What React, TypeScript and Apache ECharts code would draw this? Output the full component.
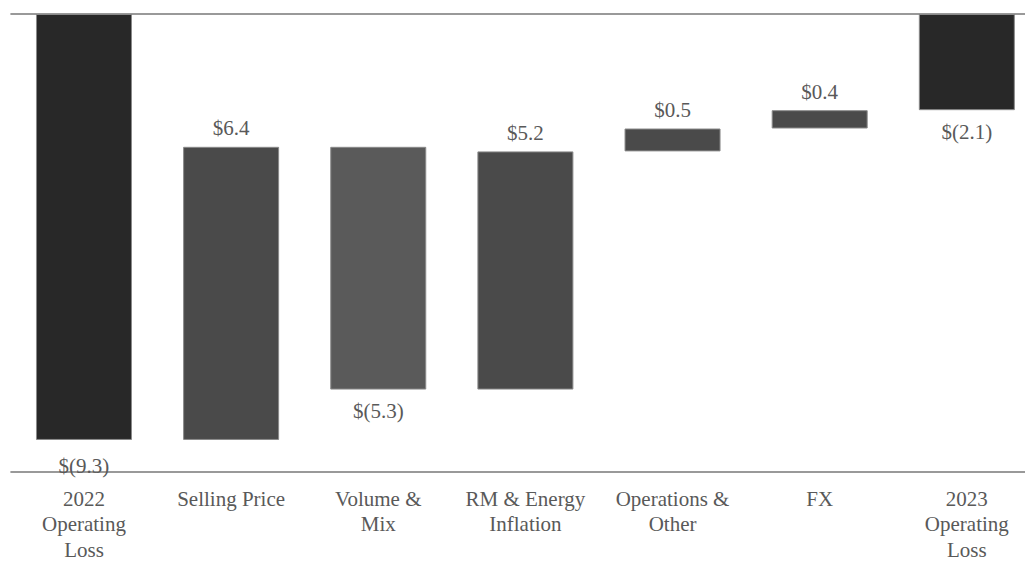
import React, { useEffect, useRef } from "react";
import * as echarts from "echarts";

const categories = [
  "2022\nOperating\nLoss",
  "Selling Price",
  "Volume &\nMix",
  "RM & Energy\nInflation",
  "Operations &\nOther",
  "FX",
  "2023\nOperating\nLoss",
];
// change per step ($M); first and last are totals
const changes = [-9.3, 6.4, -5.3, 5.2, 0.5, 0.4, -2.1];
const isTotal = [true, false, false, false, false, false, true];
const valueLabels = ["$(9.3)", "$6.4", "$(5.3)", "$5.2", "$0.5", "$0.4", "$(2.1)"];

const barColors = ["#282828", "#4a4a4a", "#5a5a5a", "#4a4a4a", "#4a4a4a", "#4a4a4a", "#282828"];

const FONT = "'Liberation Serif', 'Times New Roman', serif";

export default function App() {
  const ref = useRef<HTMLDivElement>(null);
  useEffect(() => {
    if (!ref.current) return;
    const chart = echarts.init(ref.current, undefined, { renderer: "svg" });

    const base: number[] = [];
    const seg: any[] = [];
    let running = 0;
    changes.forEach((c, i) => {
      let start: number, end: number;
      if (isTotal[i]) {
        start = 0;
        end = c;
        running = c;
      } else {
        start = running;
        end = running + c;
        running = end;
      }
      const hi = Math.max(start, end);
      const lo = Math.min(start, end);
      base.push(+hi.toFixed(2));
      const below = isTotal[i] || c < 0;
      seg.push({
        value: +(lo - hi).toFixed(2),
        itemStyle: { color: barColors[i] },
        label: {
          show: true,
          position: below ? "bottom" : "top",
          formatter: valueLabels[i],
          distance: below ? (i === 0 ? 16 : 11) : 8,
          color: "#595959",
          fontFamily: FONT,
          fontSize: 21,
        },
      });
    });

    chart.setOption({
      animation: false,
      textStyle: { fontFamily: FONT },
      grid: {
        left: 10.4,
        width: 1030,
        top: 14,
        height: 458,
        containLabel: false,
        outerBoundsMode: "none",
      },
      xAxis: {
        type: "category",
        data: categories,
        axisLine: { show: false },
        axisTick: { show: false },
        axisLabel: {
          interval: 0,
          margin: 14,
          color: "#595959",
          fontFamily: FONT,
          fontSize: 21,
          lineHeight: 25.5,
        },
      },
      yAxis: {
        type: "value",
        min: -10,
        max: 0,
        interval: 10,
        axisLabel: { show: false },
        axisLine: { show: false },
        axisTick: { show: false },
        splitLine: { show: true, lineStyle: { color: "#999999", width: 2 } },
      },
      series: [
        {
          type: "bar",
          stack: "w",
          data: base,
          barWidth: 96,
          itemStyle: { color: "transparent" },
          silent: true,
        },
        {
          type: "bar",
          stack: "w",
          data: seg,
          barWidth: 96,
          itemStyle: { borderColor: "#8a8a8a", borderWidth: 1 },
        },
      ],
    });
    return () => chart.dispose();
  }, []);
  return (
    <div
      ref={ref}
      style={{ position: "fixed", left: 0, top: 0, width: 1025, height: 563, background: "#fff" }}
    />
  );
}
